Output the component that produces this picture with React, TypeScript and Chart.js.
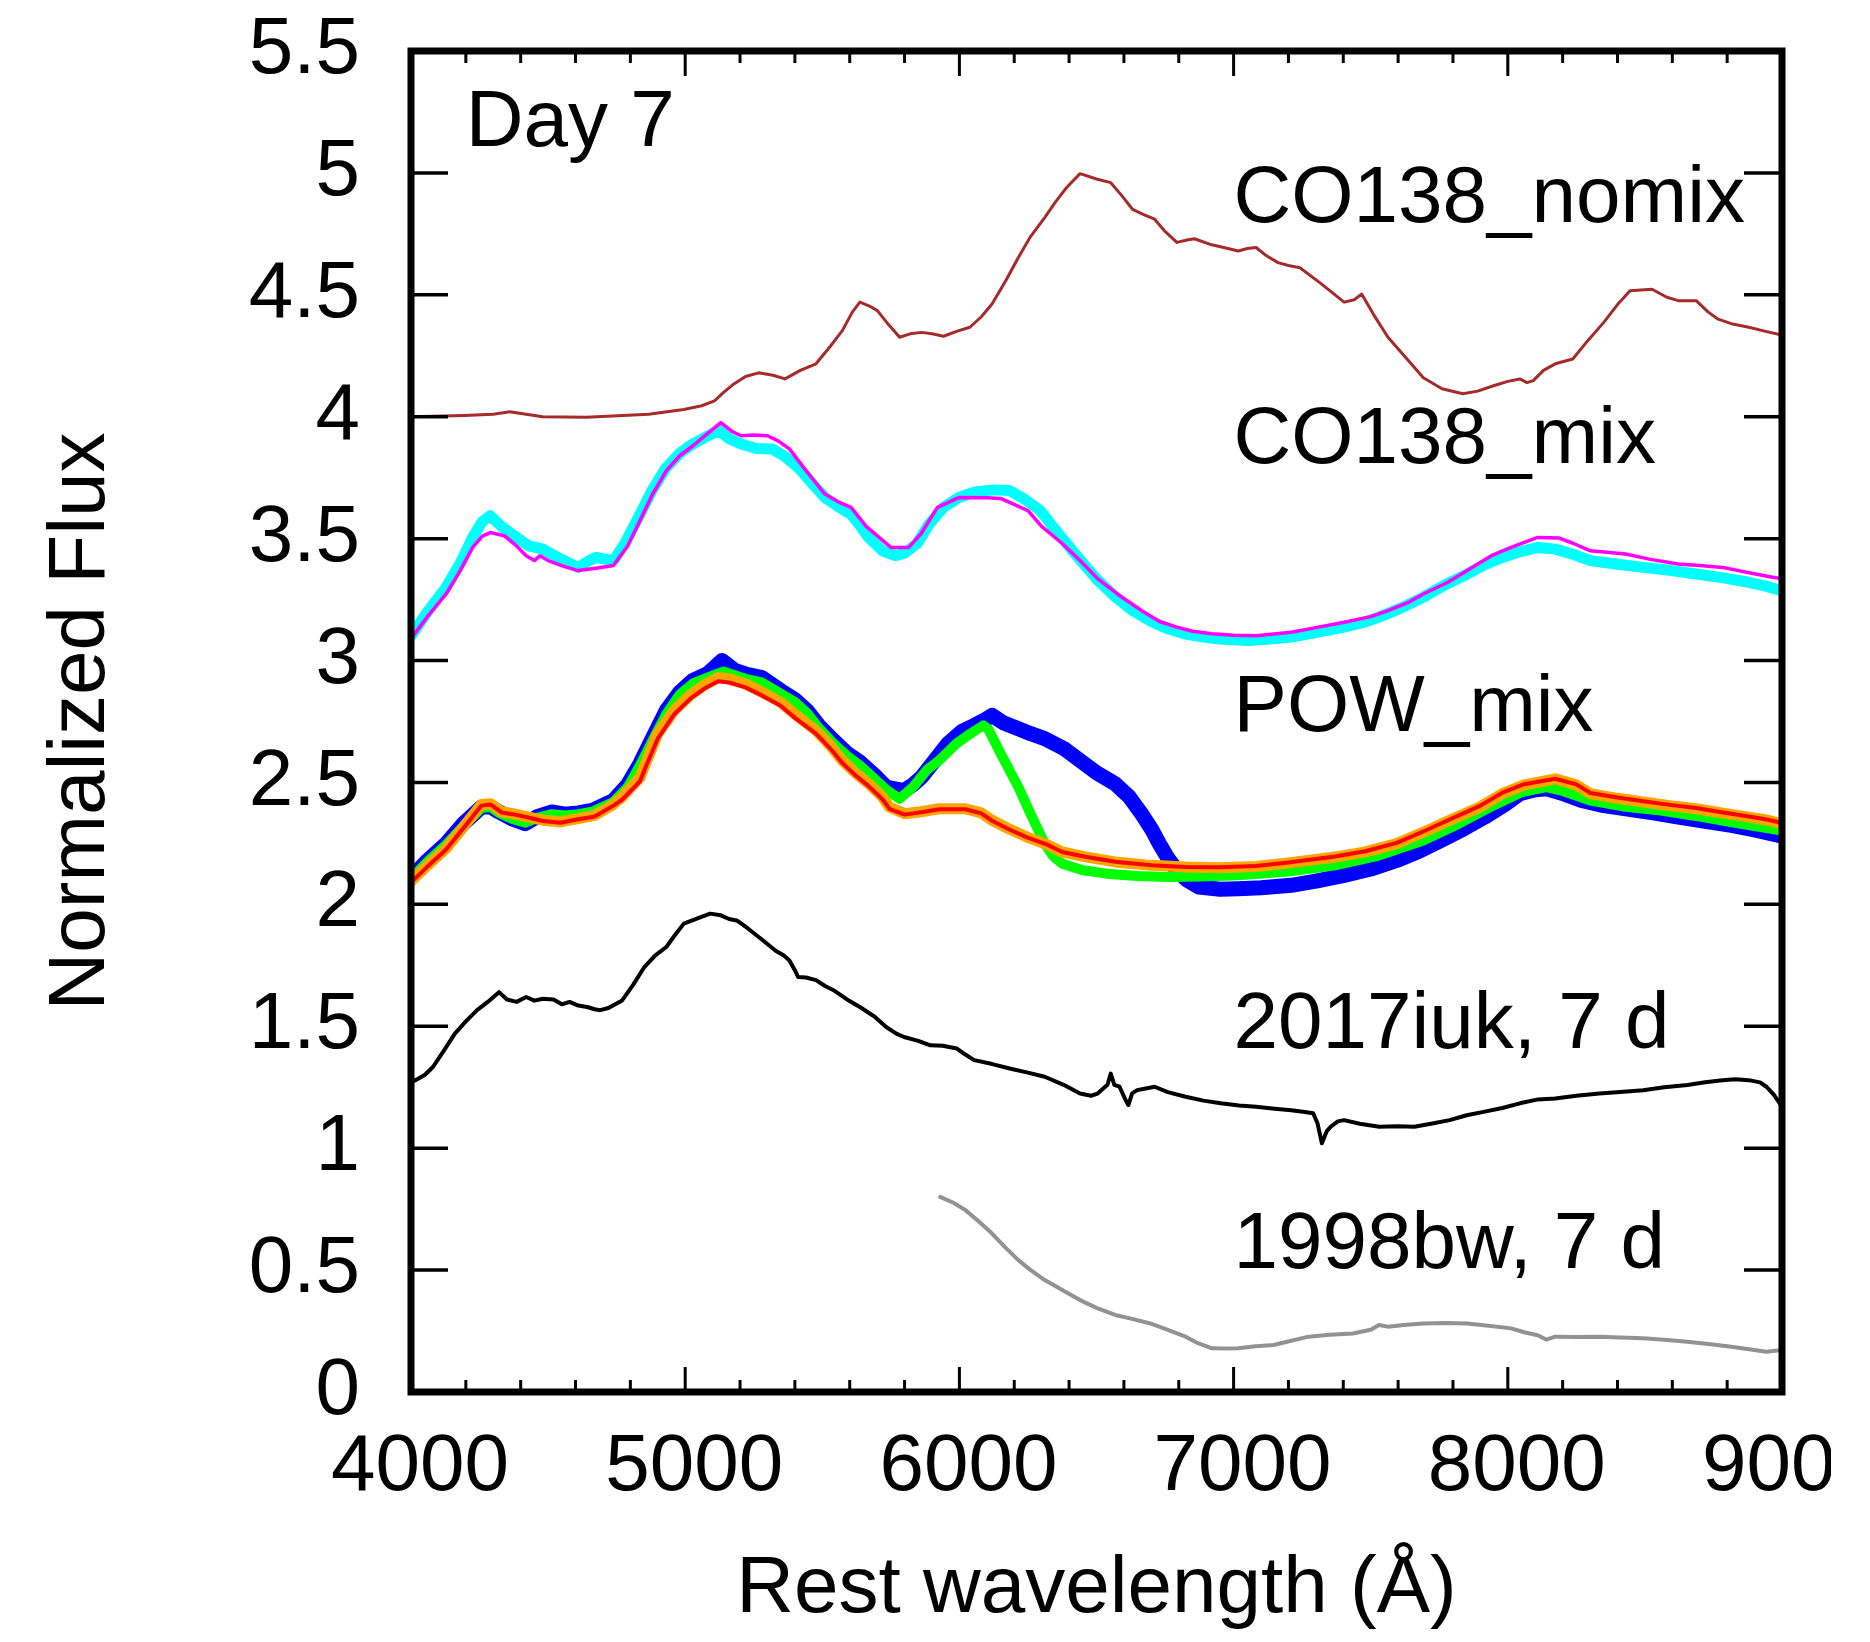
import React, { useEffect, useRef } from 'react';
import { Chart, registerables } from 'chart.js';

Chart.register(...registerables);

// ---------- data (wavelength in Å, normalized flux) ----------
const co138Nomix: [number, number][] = [
  [4000, 4.0], [4193, 4.005], [4300, 4.01], [4360, 4.02], [4420, 4.01], [4480, 4.0], [4640, 3.998], [4867, 4.01],
  [4995, 4.03], [5060, 4.045], [5107, 4.065], [5140, 4.1], [5172, 4.13], [5220, 4.165], [5268, 4.18], [5320, 4.17],
  [5364, 4.155], [5420, 4.19], [5477, 4.217], [5530, 4.29], [5573, 4.353], [5610, 4.43], [5637, 4.47], [5670, 4.455],
  [5701, 4.435], [5740, 4.38], [5782, 4.326], [5820, 4.34], [5862, 4.346], [5900, 4.34], [5942, 4.33], [5990, 4.35],
  [6038, 4.367], [6080, 4.41], [6119, 4.462], [6170, 4.56], [6215, 4.653], [6260, 4.74], [6311, 4.817], [6350, 4.88],
  [6391, 4.94], [6440, 4.997], [6500, 4.975], [6552, 4.96], [6590, 4.91], [6632, 4.85], [6670, 4.83], [6712, 4.81],
  [6750, 4.76], [6793, 4.715], [6830, 4.725], [6857, 4.73], [6920, 4.705], [6960, 4.695], [7017, 4.68], [7050, 4.69],
  [7082, 4.694], [7120, 4.66], [7162, 4.632], [7200, 4.62], [7242, 4.611], [7320, 4.545], [7403, 4.47], [7440, 4.48],
  [7467, 4.503], [7510, 4.42], [7563, 4.326], [7630, 4.24], [7692, 4.16], [7760, 4.115], [7836, 4.094], [7890, 4.105],
  [7948, 4.127], [8000, 4.145], [8044, 4.155], [8070, 4.14], [8093, 4.148], [8130, 4.19], [8173, 4.217], [8237, 4.237],
  [8290, 4.31], [8350, 4.387], [8400, 4.46], [8446, 4.517], [8526, 4.523], [8580, 4.49], [8622, 4.476], [8687, 4.476],
  [8730, 4.43], [8767, 4.4], [8820, 4.38], [8879, 4.367], [8940, 4.35], [9000, 4.335],
];

const co138MixCyan: [number, number][] = [
  [4000, 3.1], [4060, 3.2], [4128, 3.3], [4180, 3.4], [4225, 3.505], [4260, 3.57], [4289, 3.594], [4330, 3.55],
  [4385, 3.505], [4430, 3.47], [4481, 3.457], [4540, 3.42], [4610, 3.382], [4650, 3.41], [4674, 3.423], [4738, 3.41],
  [4780, 3.48], [4835, 3.6], [4880, 3.7], [4931, 3.792], [4980, 3.85], [5027, 3.888], [5080, 3.92], [5124, 3.943],
  [5160, 3.91], [5204, 3.888], [5260, 3.87], [5316, 3.868], [5360, 3.84], [5412, 3.792], [5460, 3.73], [5509, 3.669],
  [5560, 3.63], [5605, 3.6], [5640, 3.55], [5669, 3.505], [5720, 3.45], [5766, 3.43], [5800, 3.44], [5846, 3.48],
  [5890, 3.56], [5942, 3.628], [6000, 3.67], [6054, 3.69], [6120, 3.7], [6183, 3.697], [6240, 3.66], [6295, 3.615],
  [6340, 3.55], [6391, 3.48], [6450, 3.4], [6504, 3.33], [6570, 3.26], [6632, 3.205], [6700, 3.16], [6761, 3.13],
  [6820, 3.11], [6889, 3.096], [6950, 3.088], [7050, 3.082], [7130, 3.088], [7210, 3.096], [7300, 3.115], [7403, 3.137],
  [7470, 3.155], [7531, 3.178], [7610, 3.215], [7692, 3.26], [7770, 3.31], [7852, 3.355], [7920, 3.395], [7980, 3.423],
  [8040, 3.445], [8109, 3.464], [8173, 3.457], [8240, 3.435], [8301, 3.41], [8400, 3.395], [8494, 3.382], [8590, 3.37],
  [8687, 3.355], [8780, 3.34], [8879, 3.321], [8940, 3.305], [9000, 3.287],
];

const co138MixMagenta: [number, number][] = [
  [4000, 3.09], [4060, 3.18], [4128, 3.273], [4180, 3.37], [4225, 3.464], [4260, 3.51], [4289, 3.525], [4340, 3.512],
  [4385, 3.47], [4420, 3.43], [4450, 3.41], [4470, 3.43], [4500, 3.41], [4560, 3.385], [4610, 3.369], [4680, 3.38],
  [4738, 3.39], [4790, 3.47], [4835, 3.573], [4880, 3.68], [4931, 3.778], [4980, 3.84], [5027, 3.88], [5080, 3.93],
  [5130, 3.976], [5170, 3.94], [5204, 3.922], [5250, 3.925], [5300, 3.922], [5340, 3.9], [5380, 3.868], [5440, 3.78],
  [5509, 3.683], [5560, 3.65], [5605, 3.628], [5660, 3.55], [5750, 3.464], [5815, 3.464], [5860, 3.52], [5920, 3.628],
  [6000, 3.669], [6100, 3.668], [6150, 3.665], [6250, 3.615], [6300, 3.55], [6375, 3.48], [6440, 3.41], [6504, 3.336],
  [6580, 3.27], [6664, 3.205], [6730, 3.16], [6793, 3.137], [6850, 3.12], [6921, 3.11], [7000, 3.104], [7082, 3.102],
  [7210, 3.116], [7300, 3.135], [7403, 3.157], [7500, 3.18], [7563, 3.205], [7640, 3.24], [7692, 3.273], [7780, 3.32],
  [7852, 3.369], [7940, 3.43], [8012, 3.464], [8109, 3.505], [8185, 3.503], [8240, 3.48], [8301, 3.45], [8430, 3.437],
  [8520, 3.415], [8622, 3.396], [8700, 3.39], [8783, 3.382], [8880, 3.36], [8950, 3.345], [9000, 3.335],
];

const powMixBlue: [number, number][] = [
  [4000, 2.11], [4060, 2.18], [4128, 2.249], [4190, 2.33], [4257, 2.399], [4290, 2.4], [4321, 2.379], [4370, 2.35],
  [4417, 2.331], [4460, 2.36], [4514, 2.379], [4560, 2.37], [4610, 2.375], [4660, 2.385], [4738, 2.426], [4790, 2.49],
  [4835, 2.577], [4880, 2.68], [4931, 2.795], [4980, 2.87], [5027, 2.918], [5080, 2.945], [5134, 3.0], [5180, 2.96],
  [5220, 2.945], [5280, 2.93], [5348, 2.877], [5400, 2.84], [5444, 2.795], [5490, 2.73], [5541, 2.672], [5590, 2.62],
  [5637, 2.584], [5690, 2.53], [5733, 2.481], [5798, 2.467], [5830, 2.49], [5862, 2.522], [5910, 2.59], [5958, 2.659],
  [6010, 2.71], [6054, 2.734], [6090, 2.755], [6119, 2.775], [6160, 2.745], [6215, 2.72], [6260, 2.7], [6311, 2.68],
  [6380, 2.64], [6440, 2.59], [6500, 2.54], [6568, 2.495], [6620, 2.44], [6664, 2.372], [6700, 2.31], [6729, 2.249],
  [6760, 2.19], [6793, 2.14], [6830, 2.1], [6873, 2.071], [6950, 2.062], [7017, 2.064], [7100, 2.068], [7210, 2.078],
  [7300, 2.095], [7403, 2.119], [7500, 2.145], [7595, 2.18], [7680, 2.22], [7756, 2.262], [7840, 2.31], [7916, 2.358],
  [7990, 2.41], [8044, 2.454], [8100, 2.47], [8141, 2.474], [8200, 2.455], [8269, 2.426], [8350, 2.405], [8430, 2.392],
  [8530, 2.375], [8622, 2.358], [8720, 2.34], [8815, 2.324], [8900, 2.305], [9000, 2.28],
];

const powMixGreen: [number, number][] = [
  [4000, 2.105], [4060, 2.175], [4128, 2.245], [4190, 2.32], [4257, 2.395], [4290, 2.4], [4321, 2.375], [4370, 2.35],
  [4417, 2.335], [4460, 2.355], [4514, 2.37], [4560, 2.365], [4610, 2.37], [4660, 2.38], [4738, 2.42], [4790, 2.48],
  [4835, 2.57], [4880, 2.67], [4931, 2.78], [4980, 2.86], [5027, 2.905], [5080, 2.93], [5140, 2.955], [5180, 2.94],
  [5220, 2.925], [5280, 2.91], [5348, 2.865], [5400, 2.83], [5444, 2.785], [5490, 2.72], [5541, 2.66], [5590, 2.61],
  [5637, 2.57], [5690, 2.515], [5733, 2.47], [5782, 2.433], [5830, 2.48], [5880, 2.55], [5926, 2.59], [5990, 2.66],
  [6040, 2.7], [6087, 2.734], [6105, 2.72], [6150, 2.62], [6215, 2.481], [6260, 2.37], [6311, 2.249], [6340, 2.2],
  [6375, 2.167], [6450, 2.14], [6536, 2.126], [6650, 2.116], [6761, 2.112], [6880, 2.114], [7017, 2.119], [7200, 2.135],
  [7370, 2.16], [7530, 2.2], [7692, 2.262], [7820, 2.33], [7948, 2.406], [8050, 2.46], [8141, 2.481], [8200, 2.465],
  [8301, 2.426], [8430, 2.4], [8558, 2.385], [8700, 2.36], [8850, 2.33], [9000, 2.303],
];

const powMixOrange: [number, number][] = [
  [4000, 2.095], [4060, 2.16], [4128, 2.229], [4200, 2.33], [4257, 2.41], [4290, 2.413], [4330, 2.38], [4370, 2.372],
  [4420, 2.36], [4481, 2.345], [4545, 2.338], [4600, 2.35], [4670, 2.365], [4738, 2.41], [4770, 2.44], [4835, 2.52],
  [4860, 2.59], [4900, 2.7], [4960, 2.795], [5020, 2.86], [5070, 2.9], [5120, 2.93], [5160, 2.925], [5220, 2.904],
  [5280, 2.87], [5348, 2.829], [5400, 2.78], [5477, 2.713], [5530, 2.65], [5573, 2.59], [5620, 2.54], [5669, 2.495],
  [5720, 2.44], [5745, 2.399], [5800, 2.372], [5860, 2.38], [5926, 2.392], [6022, 2.392], [6080, 2.375], [6119, 2.345],
  [6180, 2.31], [6247, 2.276], [6320, 2.245], [6375, 2.215], [6460, 2.195], [6568, 2.174], [6700, 2.16], [6825, 2.153],
  [6950, 2.15], [7082, 2.155], [7200, 2.17], [7370, 2.194], [7480, 2.215], [7595, 2.249], [7700, 2.3], [7788, 2.345],
  [7900, 2.4], [7980, 2.454], [8060, 2.49], [8173, 2.515], [8250, 2.49], [8301, 2.454], [8400, 2.435], [8494, 2.42],
  [8590, 2.405], [8687, 2.392], [8780, 2.375], [8879, 2.358], [8950, 2.345], [9000, 2.33],
];

const powMixRed: [number, number][] = [
  [4000, 2.09], [4060, 2.155], [4128, 2.225], [4200, 2.325], [4257, 2.405], [4290, 2.41], [4330, 2.377], [4370, 2.37],
  [4420, 2.358], [4481, 2.342], [4545, 2.335], [4600, 2.347], [4670, 2.36], [4738, 2.405], [4770, 2.43], [4835, 2.505],
  [4860, 2.575], [4900, 2.68], [4960, 2.78], [5020, 2.845], [5070, 2.885], [5120, 2.915], [5160, 2.91], [5220, 2.89],
  [5280, 2.857], [5348, 2.815], [5400, 2.765], [5477, 2.7], [5530, 2.638], [5573, 2.58], [5620, 2.53], [5669, 2.485],
  [5720, 2.43], [5745, 2.392], [5800, 2.368], [5860, 2.378], [5926, 2.39], [6022, 2.39], [6080, 2.373], [6119, 2.343],
  [6180, 2.308], [6247, 2.275], [6320, 2.245], [6375, 2.215], [6460, 2.195], [6568, 2.175], [6700, 2.16], [6825, 2.153],
  [6950, 2.152], [7082, 2.157], [7200, 2.172], [7370, 2.196], [7480, 2.218], [7595, 2.252], [7700, 2.303], [7788, 2.348],
  [7900, 2.405], [7980, 2.458], [8060, 2.493], [8173, 2.515], [8250, 2.492], [8301, 2.457], [8400, 2.438], [8494, 2.423],
  [8590, 2.408], [8687, 2.395], [8780, 2.378], [8879, 2.36], [8950, 2.347], [9000, 2.333],
];

const sn2017iuk: [number, number][] = [
  [4000, 1.27], [4016, 1.279], [4050, 1.3], [4080, 1.333], [4120, 1.4], [4160, 1.47], [4200, 1.52], [4241, 1.566],
  [4280, 1.6], [4321, 1.64], [4350, 1.61], [4385, 1.6], [4420, 1.62], [4450, 1.605], [4481, 1.613], [4520, 1.61],
  [4550, 1.59], [4578, 1.6], [4610, 1.585], [4642, 1.579], [4670, 1.57], [4690, 1.566], [4720, 1.575], [4770, 1.606],
  [4810, 1.67], [4851, 1.743], [4890, 1.79], [4931, 1.825], [4960, 1.87], [4995, 1.921], [5040, 1.94], [5091, 1.962],
  [5130, 1.955], [5160, 1.94], [5188, 1.934], [5230, 1.9], [5284, 1.852], [5330, 1.81], [5360, 1.79], [5380, 1.77],
  [5400, 1.73], [5412, 1.702], [5440, 1.7], [5477, 1.689], [5510, 1.665], [5541, 1.648], [5590, 1.61], [5637, 1.579],
  [5690, 1.54], [5733, 1.497], [5770, 1.47], [5798, 1.456], [5850, 1.44], [5894, 1.422], [5940, 1.42], [5990, 1.409],
  [6020, 1.385], [6054, 1.361], [6120, 1.345], [6183, 1.327], [6250, 1.31], [6311, 1.293], [6380, 1.26], [6440, 1.224],
  [6480, 1.215], [6504, 1.224], [6540, 1.26], [6552, 1.306], [6565, 1.26], [6584, 1.252], [6605, 1.2], [6616, 1.177],
  [6630, 1.225], [6648, 1.238], [6680, 1.245], [6712, 1.252], [6760, 1.23], [6825, 1.211], [6890, 1.195], [6953, 1.184],
  [7020, 1.175], [7082, 1.17], [7150, 1.162], [7210, 1.156], [7260, 1.148], [7290, 1.143], [7306, 1.102], [7322, 1.02],
  [7340, 1.07], [7354, 1.088], [7380, 1.11], [7403, 1.115], [7460, 1.1], [7531, 1.088], [7600, 1.09], [7659, 1.088],
  [7720, 1.1], [7788, 1.115], [7850, 1.135], [7916, 1.15], [7980, 1.165], [8044, 1.184], [8110, 1.2], [8173, 1.204],
  [8250, 1.215], [8334, 1.224], [8410, 1.23], [8494, 1.238], [8570, 1.25], [8655, 1.259], [8720, 1.27], [8783, 1.279],
  [8830, 1.283], [8879, 1.279], [8920, 1.27], [8943, 1.252], [8970, 1.22], [9000, 1.17],
];

const sn1998bw: [number, number][] = [
  [5930, 0.8], [5942, 0.794], [5980, 0.775], [6022, 0.746], [6070, 0.7], [6119, 0.65], [6170, 0.59], [6215, 0.541],
  [6260, 0.5], [6311, 0.459], [6380, 0.415], [6440, 0.377], [6500, 0.345], [6568, 0.316], [6630, 0.3], [6696, 0.281],
  [6760, 0.255], [6825, 0.227], [6870, 0.2], [6921, 0.179], [6970, 0.178], [7017, 0.179], [7080, 0.188], [7146, 0.193],
  [7210, 0.21], [7274, 0.227], [7350, 0.235], [7435, 0.24], [7500, 0.255], [7530, 0.275], [7563, 0.268], [7620, 0.275],
  [7692, 0.281], [7770, 0.283], [7852, 0.281], [7930, 0.272], [8012, 0.261], [8060, 0.245], [8109, 0.233], [8140, 0.215],
  [8173, 0.227], [8250, 0.226], [8334, 0.227], [8410, 0.224], [8494, 0.22], [8570, 0.214], [8655, 0.206], [8740, 0.196],
  [8815, 0.186], [8880, 0.175], [8943, 0.165], [9000, 0.172],
];

// curve labels
const curveLabels = ['CO138_nomix', 'CO138_mix', 'POW_mix', '2017iuk, 7 d', '1998bw, 7 d'];
const curveLabelFlux = [4.89, 3.9, 2.8, 1.5, 0.6];
const curveLabelWave = 7000;
const dayLabel = 'Day 7';
const dayLabelWave = 4200;
const dayLabelFlux = 5.2;

const xMin = 4000, xMax = 9000, xMajor = 1000, xMinor = 200;
const yMin = 0, yMax = 5.5, yStep = 0.5;

const FONT = '"Liberation Sans", Arial, Helvetica, sans-serif';
const W = 1831, H = 1642;

function toPts(a: [number, number][]) {
  return a.map(([x, y]) => ({ x, y }));
}

const framePlugin = {
  id: 'gnuFrame',
  afterDraw(chart: any) {
    const { ctx, chartArea: a, scales } = chart;
    const xs = scales.x, ys = scales.y;
    ctx.save();
    ctx.strokeStyle = '#000';
    ctx.lineCap = 'butt';
    ctx.lineWidth = 3.5;
    const line = (x1: number, y1: number, x2: number, y2: number) => {
      ctx.beginPath(); ctx.moveTo(x1, y1); ctx.lineTo(x2, y2); ctx.stroke();
    };
    for (let v = yMin + yStep; v < yMax - 1e-9; v += yStep) {
      const py = ys.getPixelForValue(v);
      line(a.left, py, a.left + 37, py);
      line(a.right, py, a.right - 38, py);
    }
    ctx.lineWidth = 3;
    for (let v = xMin + xMinor; v < xMax; v += xMinor) {
      const px = xs.getPixelForValue(v);
      const len = v % xMajor === 0 ? 25 : 12;
      line(px, a.bottom, px, a.bottom - len);
      line(px, a.top, px, a.top + len);
    }
    ctx.lineWidth = 7;
    ctx.strokeRect(a.left, a.top, a.right - a.left, a.bottom - a.top);

    ctx.fillStyle = '#000';
    ctx.font = `80px ${FONT}`;
    ctx.textAlign = 'left';
    ctx.textBaseline = 'middle';
    curveLabels.forEach((t, i) => {
      ctx.fillText(t, xs.getPixelForValue(curveLabelWave), ys.getPixelForValue(curveLabelFlux[i]));
    });
    ctx.fillText(dayLabel, xs.getPixelForValue(dayLabelWave), ys.getPixelForValue(dayLabelFlux));
    ctx.restore();
  },
};

function ds(label: string, data: [number, number][], color: string, width: number, order: number) {
  return {
    label,
    data: toPts(data),
    borderColor: color,
    backgroundColor: color,
    borderWidth: width,
    pointRadius: 0,
    tension: 0,
    fill: false,
    borderJoinStyle: 'round' as const,
    borderCapStyle: 'round' as const,
    order,
  };
}

export default function App() {
  const ref = useRef<HTMLCanvasElement>(null);
  useEffect(() => {
    const canvas = ref.current;
    if (!canvas) return;
    const font = { family: FONT, size: 80 };
    const chart = new Chart(canvas, {
      type: 'line',
      data: {
        datasets: [
          ds('CO138_nomix', co138Nomix, '#a52a2a', 3, 9),
          ds('CO138_mix cyan', co138MixCyan, '#00ffff', 11, 8),
          ds('CO138_mix magenta', co138MixMagenta, '#ff00ff', 3.5, 7),
          ds('POW_mix blue', powMixBlue, '#0000ff', 15, 6),
          ds('POW_mix green', powMixGreen, '#00ff00', 10, 5),
          ds('POW_mix orange', powMixOrange, '#ffa500', 11, 4),
          ds('POW_mix red', powMixRed, '#ff0000', 4, 3),
          ds('2017iuk, 7 d', sn2017iuk, '#000000', 4, 2),
          ds('1998bw, 7 d', sn1998bw, '#929292', 4, 1),
        ] as any,
      },
      options: {
        animation: false,
        responsive: false,
        devicePixelRatio: 1,
        events: [],
        layout: { padding: { top: 51, right: W - 1782, bottom: 0, left: 0 } },
        plugins: { legend: { display: false }, tooltip: { enabled: false } },
        scales: {
          x: {
            type: 'linear',
            min: xMin,
            max: xMax,
            border: { display: false },
            grid: { display: false, drawTicks: false },
            ticks: {
              stepSize: xMajor,
              font,
              color: '#000',
              padding: 28,
              labelOffset: 9,
              maxRotation: 0,
              autoSkip: false,
              callback: (v: any) => String(v),
            },
            title: { display: true, text: 'Rest wavelength (Å)', font, color: '#000', padding: { top: 0, bottom: 4 } },
            afterFit: (s: any) => { s.height = H - 1392; s.paddingLeft = 0; s.paddingRight = 0; },
          },
          y: {
            type: 'linear',
            min: yMin,
            max: yMax,
            border: { display: false },
            grid: { display: false, drawTicks: false },
            ticks: {
              stepSize: yStep,
              font,
              color: '#000',
              padding: 51,
              autoSkip: false,
              callback: (v: any) => String(v),
            },
            title: { display: true, text: 'Normalized Flux', font, color: '#000', padding: { top: 34, bottom: 0 } },
            afterFit: (s: any) => { s.width = 411; s.paddingTop = 0; s.paddingBottom = 0; },
          },
        },
      } as any,
      plugins: [framePlugin],
    });
    return () => chart.destroy();
  }, []);
  return (
    <div style={{ position: 'fixed', left: 0, top: 0, width: 1870, height: 1642, background: '#fff', overflow: 'hidden' }}>
      <canvas ref={ref} width={W} height={H} style={{ display: 'block', width: W, height: H }} />
    </div>
  );
}
